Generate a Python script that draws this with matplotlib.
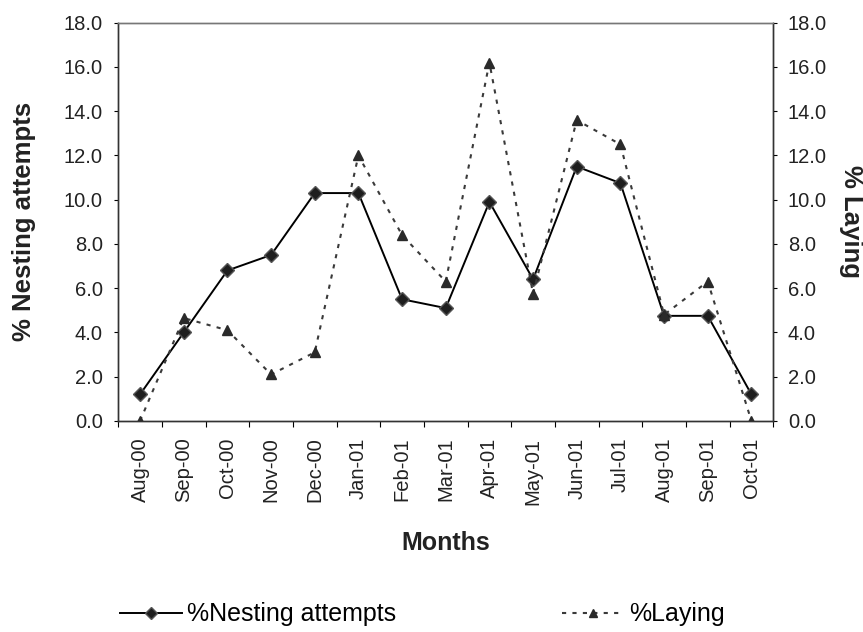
import matplotlib
matplotlib.use("Agg")
from matplotlib import pyplot as plt

plt.rcParams['font.family'] = ['Liberation Sans', 'DejaVu Sans']

months = ["Aug-00", "Sep-00", "Oct-00", "Nov-00", "Dec-00", "Jan-01", "Feb-01",
          "Mar-01", "Apr-01", "May-01", "Jun-01", "Jul-01", "Aug-01", "Sep-01", "Oct-01"]
nesting = [1.2, 4.0, 6.8, 7.5, 10.3, 10.3, 5.5, 5.1, 9.9, 6.4, 11.5, 10.75, 4.75, 4.75, 1.2]
laying = [0.0, 4.65, 4.1, 2.1, 3.1, 12.0, 8.4, 6.3, 16.2, 5.75, 13.6, 12.5, 4.8, 6.3, 0.0]
yticks = [0, 2, 4, 6, 8, 10, 12, 14, 16, 18]

fig = plt.figure(figsize=(8.63, 6.32), dpi=100)
ax = fig.add_axes([0.137, 0.334, 0.759, 0.63])
ax2 = ax.twinx()

x = list(range(len(months)))
l1, = ax.plot(x, nesting, color="black", linewidth=1.4, marker="D",
              markersize=7.5, markerfacecolor="#1e1e1e", markeredgecolor="#555555",
              markeredgewidth=1.0, label="%Nesting attempts", zorder=3)
l2, = ax2.plot(x, laying, color="#3a3a3a", linewidth=1.5, linestyle=(0, (2, 3)),
               marker="^", markersize=7, markerfacecolor="#2a2a2a",
               markeredgecolor="#2a2a2a", label="%Laying", zorder=2)

for a in (ax, ax2):
    a.set_ylim(0, 18)
    a.set_yticks(yticks)
    a.set_yticklabels(["%.1f" % v for v in yticks], fontsize=14.5, color="#222222")
    a.set_xlim(-0.5, len(months) - 0.5)
    for s in a.spines.values():
        s.set_color("#333333")
        s.set_linewidth(1.0)
ax.spines["top"].set_color("#777777")
ax2.spines["top"].set_color("#777777")

ax.set_xticks([i - 0.5 for i in range(len(months) + 1)])
ax.set_xticklabels([])
ax.set_xticks(x, minor=True)
ax.set_xticklabels(months, minor=True, rotation=90, fontsize=14.5, color="#222222")
ax.tick_params(axis="x", which="minor", length=0, pad=12)
ax.tick_params(axis="x", which="major", length=4, direction="out")
ax.tick_params(axis="y", length=3, direction="out", pad=8)
ax2.tick_params(axis="y", length=3, direction="out", pad=7.5)

ax.set_ylabel("% Nesting attempts", fontsize=18.5, fontweight="bold", labelpad=20,
              color="#222222")
ax2.set_ylabel("% Laying", fontsize=18.5, fontweight="bold", rotation=-90, labelpad=26,
               color="#222222")
ax.set_xlabel("Months", fontsize=18, fontweight="bold", labelpad=19, color="#222222")

fig.legend(handles=[l1, l2], loc="center left", bbox_to_anchor=(0.139, 0.028), ncol=2,
           frameon=False, prop={"size": 18}, handlelength=2.5, columnspacing=6.6,
           handletextpad=0.2, borderpad=0, borderaxespad=0, markerscale=0.85)

fig.savefig("out.png", dpi=100)
